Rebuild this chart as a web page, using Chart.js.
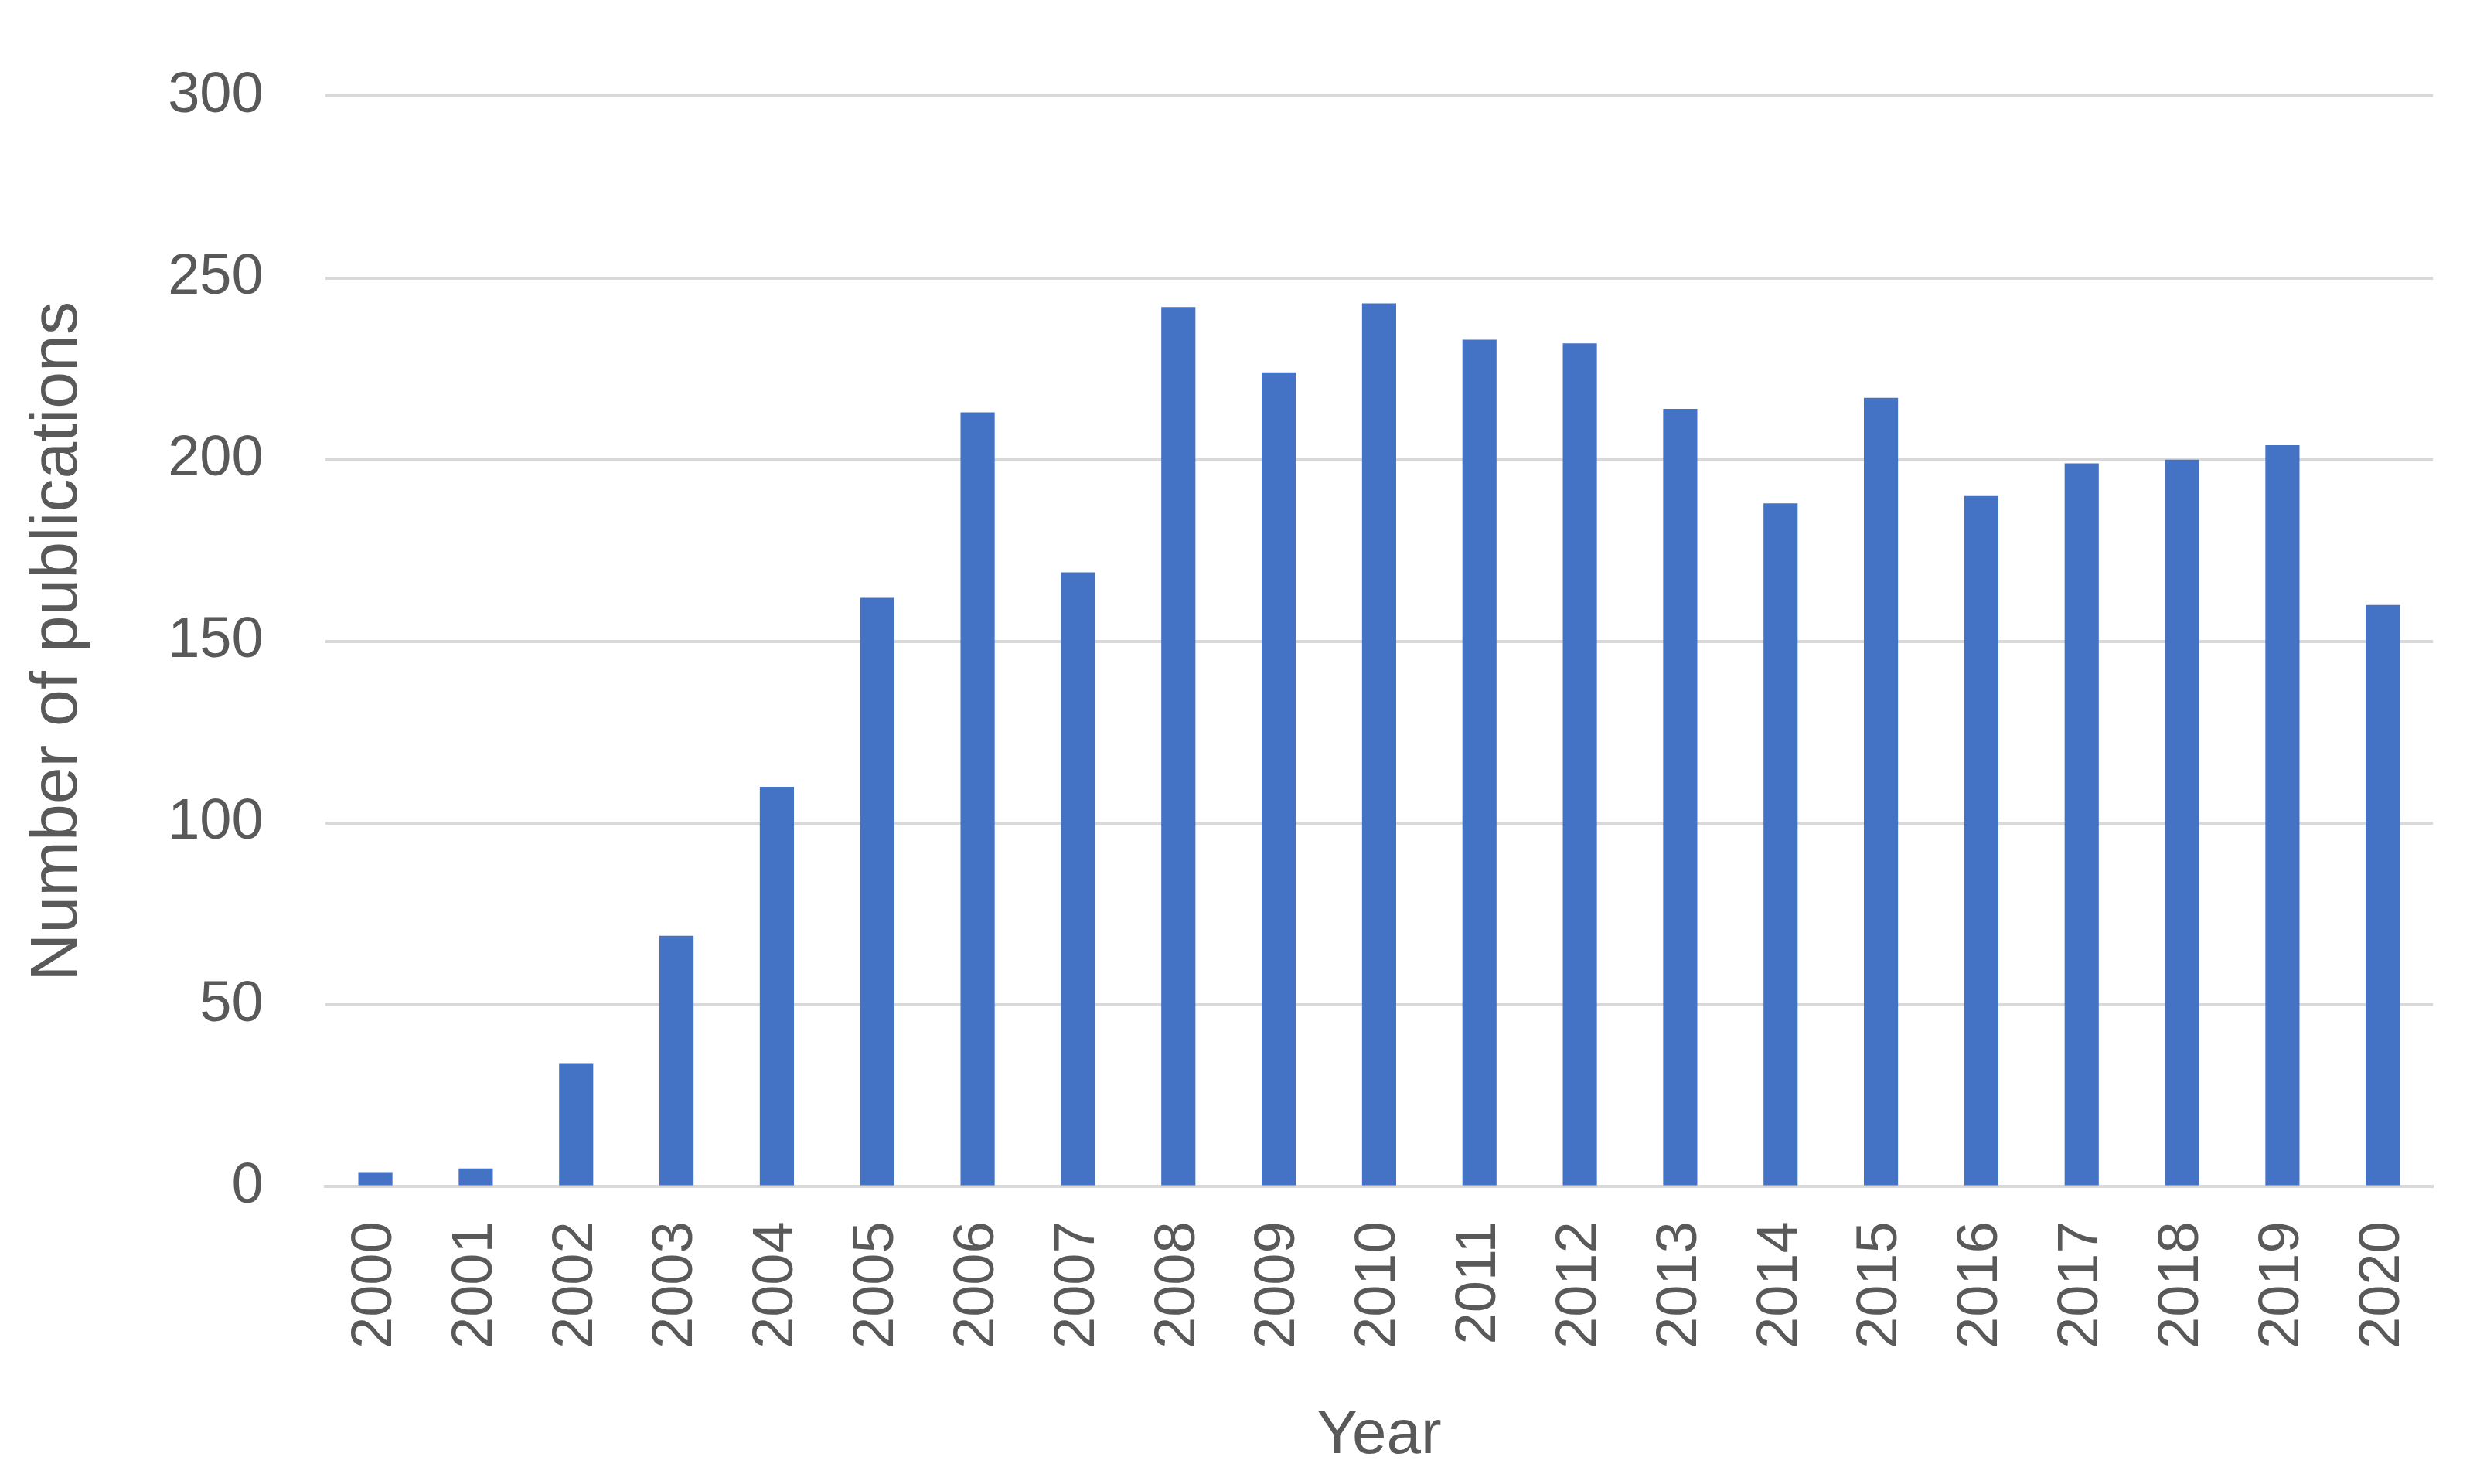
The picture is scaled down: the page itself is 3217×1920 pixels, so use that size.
<!DOCTYPE html>
<html><head><meta charset="utf-8">
<script src="https://cdn.jsdelivr.net/npm/chart.js@4"></script>
<style>html,body{margin:0;padding:0;background:#fff}</style>
</head><body>
<canvas id="c" width="3217" height="1920" style="width:3217px;height:1920px"></canvas>
<script>
const years = ["2000","2001","2002","2003","2004","2005","2006","2007","2008","2009","2010","2011","2012","2013","2014","2015","2016","2017","2018","2019","2020"];
const publications = [4,5,34,69,110,162,213,169,242,224,243,233,232,214,188,217,190,199,200,204,160];
const yTicks = [0,50,100,150,200,250,300];
new Chart(document.getElementById('c'), {
  type: 'bar',
  data: { labels: years, datasets: [{ data: publications, backgroundColor: '#4472C4', categoryPercentage: 1, barPercentage: 0.34 }] },
  options: {
    responsive: false, animation: false,
    layout: { padding: { left: 20, right: 40, top: 70, bottom: 10 } },
    plugins: { legend: { display: false }, tooltip: { enabled: false } },
    scales: {
      x: {
        grid: { display: false, drawTicks: false },
        border: { color: '#d9d9d9', width: 4 },
        ticks: { color: '#595959', font: { family: 'Liberation Sans', size: 74 }, minRotation: 90, maxRotation: 90, padding: 45 },
        title: { display: true, text: 'Year', color: '#595959', font: { family: 'Liberation Sans', size: 80 }, padding: { top: 20 } }
      },
      y: {
        min: 0, max: 300,
        afterBuildTicks: s => { s.ticks = yTicks.map(v => ({ value: v })); },
        grid: { color: '#d9d9d9', lineWidth: 4, drawTicks: false },
        border: { display: false },
        ticks: { color: '#595959', font: { family: 'Liberation Sans', size: 74 }, padding: 80 },
        title: { display: true, text: 'Number of publications', color: '#595959', font: { family: 'Liberation Sans', size: 86 }, padding: { bottom: 10 } }
      }
    }
  }
});
</script>
</body></html>
